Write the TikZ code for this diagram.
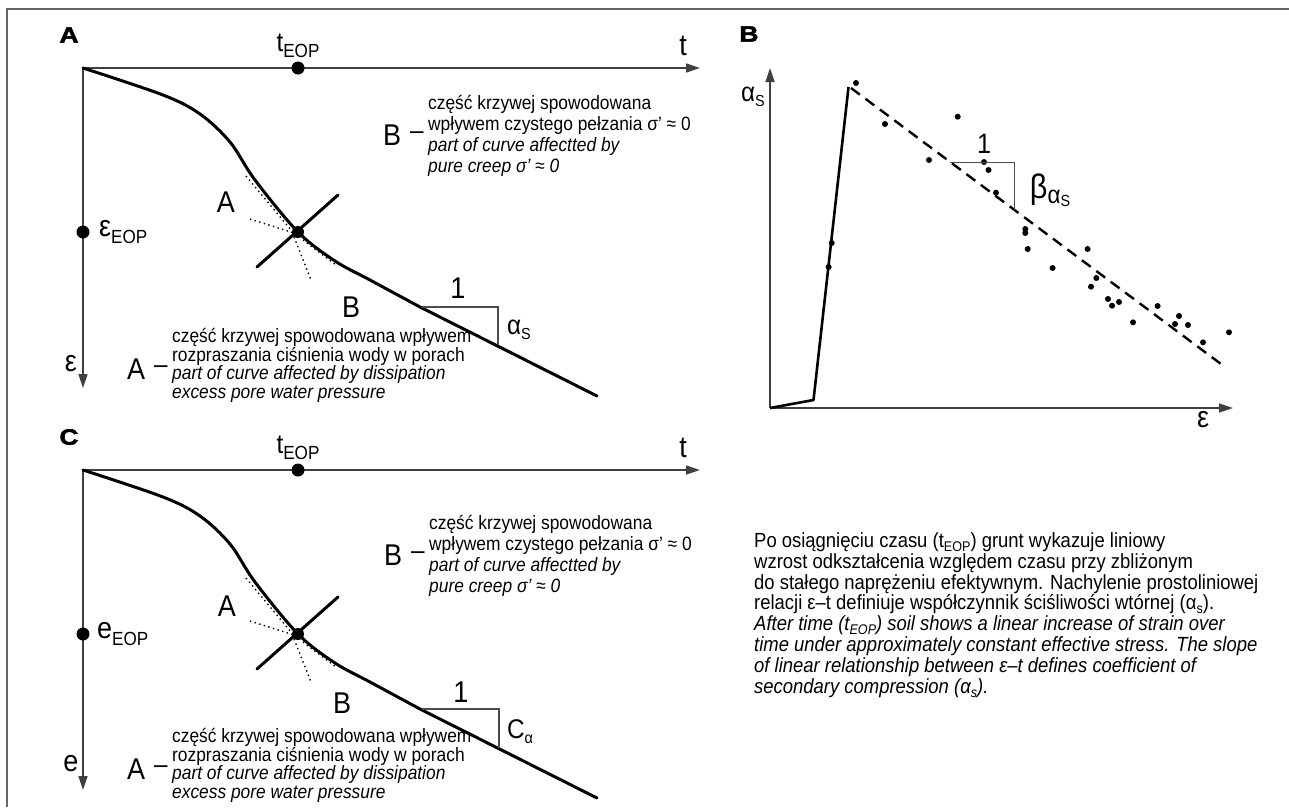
\documentclass[tikz,border=0pt]{standalone}
\usepackage{fontspec}
\setmainfont{Liberation Sans}[FakeStretch=0.9]
\newfontfamily\heavy{Liberation Sans}[FakeStretch=1.2, BoldFeatures={FakeBold=2.5}]
\usetikzlibrary{arrows.meta}
\newcommand\sbs[3]{\raisebox{-#2pt}{\fontsize{#1}{#1}\selectfont #3}}
\begin{document}
\begin{tikzpicture}[x=1pt,y=-1pt,
  axis/.style={line width=1.4pt, draw=black!75, -{Triangle[length=14pt,width=9pt]}},
  curve/.style={line width=3pt, line join=round, line cap=round},
  dotline/.style={line width=1.4pt, dash pattern=on 1.4pt off 3.4pt},
  tri/.style={line width=1.2pt, draw=black!70},
  bigdot/.style={circle, fill=black, inner sep=0pt, minimum size=13pt},
  xdot/.style={circle, fill=black, inner sep=0pt, minimum size=12pt},
  sdot/.style={circle, fill=black, inner sep=0pt, minimum size=6pt},
  lbl/.style={font=\fontsize{30}{32}\selectfont, inner sep=0pt},
  sublbl/.style={font=\fontsize{27}{29}\selectfont, inner sep=0pt},
  dashlbl/.style={font=\fontsize{27}{29}\selectfont, inner sep=0pt},
  txt/.style={font=\fontsize{19.3}{22}\selectfont, inner sep=0pt, anchor=base west},
  itxt/.style={font=\fontsize{19.3}{22}\selectfont\itshape, inner sep=0pt, anchor=base west},
  ptxt/.style={font=\fontsize{20.5}{22}\selectfont, inner sep=0pt, anchor=base west},
  pitxt/.style={font=\fontsize{20.5}{22}\selectfont\itshape, inner sep=0pt, anchor=base west},
  panel/.style={font=\heavy\bfseries\fontsize{22}{24}\selectfont, inner sep=0pt}
]
\useasboundingbox (0,0) rectangle (1289,807);
% frame
\coordinate (fr1) at (1289,9);
\coordinate (fr2) at (7,9);
\coordinate (fr3) at (7,807);
\draw[line width=1.5pt, black!60] (fr1) -- (fr2) -- (fr3);

% ================= PANEL A =================
\node[panel] (pA) at (69,35) {A};
\coordinate (Ao) at (83,68);
\coordinate (At) at (700,68);
\coordinate (Ae) at (83,388);
\draw[axis] (Ao) -- (At);
\draw[axis] (Ao) -- (Ae);
\node[bigdot] (AtEOPdot) at (298,68) {};
\node[sublbl] (AtEOP) at (298,46) {t\sbs{19}{6}{EOP}};
\node[lbl] (Atlab) at (683,46) {t};
\node[bigdot] (AeEOPdot) at (83,232) {};
\node[lbl, anchor=west] (AeEOP) at (99,232) {ε\sbs{19}{7}{EOP}};
\node[lbl] (Aelab) at (71,364) {ε};
\draw[curve] plot[smooth, tension=0.55] coordinates {(83,68) (163,95) (200,114) (230,142) (255,180) (298,232) (335,261) (370,280) (420,307)} -- (597,396);
\draw[dotline] (250,219) -- (294,233);
\draw[dotline] (246,176) -- (291,230);
\draw[dotline] (294,237) -- (311,280);
\draw[dotline] (303,240) -- (336,265);
\draw[curve] (257,267) -- (338,195);
\node[xdot] (AX) at (298,232) {};
\coordinate (Ata) at (422,307);
\coordinate (Atb) at (498,307);
\coordinate (Atc) at (498,345);
\draw[tri] (Ata) -- (Atb) -- (Atc);
\node[lbl] (Aone) at (458,288) {1};
\node[sublbl] (Aalpha) at (519,330) {α\sbs{16}{5}{S}};
\node[lbl] (AlabA) at (226,202) {A};
\node[lbl] (AlabB) at (351,307) {B};
% B text block
\node[lbl, anchor=base west] (ABlet) at (383,145) {B};
\node[dashlbl] (ABdash) at (417,136) {–};
\node[txt] (ABl1) at (428,109) {część krzywej spowodowana};
\node[txt] (ABl2) at (428,130) {wpływem czystego pełzania σ’ ≈ 0};
\node[itxt] (ABl3) at (428,151) {part of curve affectted by};
\node[itxt] (ABl4) at (428,172) {pure creep σ’ ≈ 0};
% A text block
\node[lbl, anchor=base west] (AAlet) at (127,379) {A};
\node[dashlbl] (AAdash) at (161,370) {–};
\node[txt] (AAl1) at (172,342) {część krzywej spowodowana wpływem};
\node[txt] (AAl2) at (172,361) {rozpraszania ciśnienia wody w porach};
\node[itxt] (AAl3) at (172,379) {part of curve affected by dissipation};
\node[itxt] (AAl4) at (172,398) {excess pore water pressure};

% ================= PANEL C =================
\node[panel] (pC) at (69,437) {C};
\coordinate (Co) at (83,470);
\coordinate (Ct) at (700,470);
\coordinate (Ce) at (83,790);
\draw[axis] (Co) -- (Ct);
\draw[axis] (Co) -- (Ce);
\node[bigdot] (CtEOPdot) at (298,470) {};
\node[sublbl] (CtEOP) at (298,448) {t\sbs{19}{6}{EOP}};
\node[lbl] (Ctlab) at (683,448) {t};
\node[bigdot] (CeEOPdot) at (83,634) {};
\node[lbl, anchor=west] (CeEOP) at (97,634) {e\sbs{19}{7}{EOP}};
\node[lbl] (Celab) at (71,764) {e};
\begin{scope}[yshift=-402pt]
\draw[curve] plot[smooth, tension=0.55] coordinates {(83,68) (163,95) (200,114) (230,142) (255,180) (298,232) (335,261) (370,280) (420,307)} -- (597,396);
\draw[dotline] (250,219) -- (294,233);
\draw[dotline] (246,176) -- (291,230);
\draw[dotline] (294,237) -- (311,280);
\draw[dotline] (303,240) -- (336,265);
\draw[curve] (257,267) -- (338,195);
\end{scope}
\node[xdot] (CX) at (298,634) {};
\coordinate (Cta) at (422,709);
\coordinate (Ctb) at (499,709);
\coordinate (Ctc) at (499,748);
\draw[tri] (Cta) -- (Ctb) -- (Ctc);
\node[lbl] (Cone) at (461,692) {1};
\node[sublbl] (Calpha) at (520,732) {C\sbs{16}{5}{α}};
\node[lbl] (ClabA) at (227,606) {A};
\node[lbl] (ClabB) at (342,703) {B};
\node[lbl, anchor=base west] (CBlet) at (384,565) {B};
\node[dashlbl] (CBdash) at (418,556) {–};
\node[txt] (CBl1) at (429,529) {część krzywej spowodowana};
\node[txt] (CBl2) at (429,550) {wpływem czystego pełzania σ’ ≈ 0};
\node[itxt] (CBl3) at (429,571) {part of curve affectted by};
\node[itxt] (CBl4) at (429,592) {pure creep σ’ ≈ 0};
\node[lbl, anchor=base west] (CAlet) at (127,779) {A};
\node[dashlbl] (CAdash) at (161,770) {–};
\node[txt] (CAl1) at (172,742) {część krzywej spowodowana wpływem};
\node[txt] (CAl2) at (172,761) {rozpraszania ciśnienia wody w porach};
\node[itxt] (CAl3) at (172,779) {part of curve affected by dissipation};
\node[itxt] (CAl4) at (172,798) {excess pore water pressure};

% ================= PANEL B =================
\node[panel] (pB) at (749,34) {B};
\coordinate (Bo) at (770,408);
\coordinate (Btop) at (770,68);
\coordinate (Bright) at (1233,408);
\draw[axis] (Bo) -- (Btop);
\draw[axis] (Bo) -- (Bright);
\node[sublbl] (Balpha) at (753,97) {α\sbs{16}{5}{S}};
\node[lbl] (Beps) at (1203,420) {ε};
\coordinate (Bk1) at (813.5,400);
\coordinate (Bpk) at (848.5,87);
\draw[line width=2.6pt, line join=round] (Bo) -- (Bk1) -- (Bpk);
\coordinate (Bd1) at (851,88);
\coordinate (Bd2) at (1225,367);
\draw[line width=2.4pt, dash pattern=on 11pt off 7pt] (Bd1) -- (Bd2);
\foreach \i/\p in {1/{831.7,243}, 2/{828.6,267}, 3/{856,83}, 4/{885,124}, 5/{957.7,116.7}, 6/{929,160},
  7/{984,162}, 8/{988.5,170}, 9/{996,192.7}, 10/{1025.3,229}, 11/{1025.3,233}, 12/{1027.7,249},
  13/{1087.6,249}, 14/{1052.6,268}, 15/{1096.3,278}, 16/{1091,286.7}, 17/{1108,299}, 18/{1112,305.7},
  19/{1119,302}, 20/{1157.6,306}, 21/{1133,322.3}, 22/{1179,316}, 23/{1175,324}, 24/{1188,325},
  25/{1203,342.3}, 26/{1229,332.3}}
  \node[sdot] (bp\i) at (\p) {};
\coordinate (Bta) at (950,162.7);
\coordinate (Btb) at (1014.8,162.7);
\coordinate (Btc) at (1014.8,210.7);
\draw[tri] (Bta) -- (Btb) -- (Btc);
\node[inner sep=0pt, font=\fontsize{28}{30}\selectfont] (Bone) at (984,144) {1};
\node[inner sep=0pt, font=\fontsize{34}{36}\selectfont] (Bbeta) at (1050,190) {β\sbs{25}{5}{α\sbs{16}{3}{S}}};

% paragraph
\node[ptxt] (P1) at (754,547) {Po osiągnięciu czasu (t\sbs{14}{4}{EOP}) grunt wykazuje liniowy};
\node[ptxt] (P2) at (754,568) {wzrost odkształcenia względem czasu przy zbliżonym};
\node[ptxt] (P3) at (754,589) {do stałego naprężeniu efektywnym. Nachylenie prostoliniowej};
\node[ptxt] (P4) at (754,609) {relacji ε–t definiuje współczynnik ściśliwości wtórnej (α\sbs{14}{4}{s}).};
\node[pitxt] (P5) at (754,630) {After time (t\sbs{14}{4}{EOP}) soil shows a linear increase of strain over};
\node[pitxt] (P6) at (754,651) {time under approximately constant effective stress. The slope};
\node[pitxt] (P7) at (754,672) {of linear relationship between ε–t defines coefficient of};
\node[pitxt] (P8) at (754,693) {secondary compression (α\sbs{14}{4}{s}).};
\end{tikzpicture}
\end{document}
